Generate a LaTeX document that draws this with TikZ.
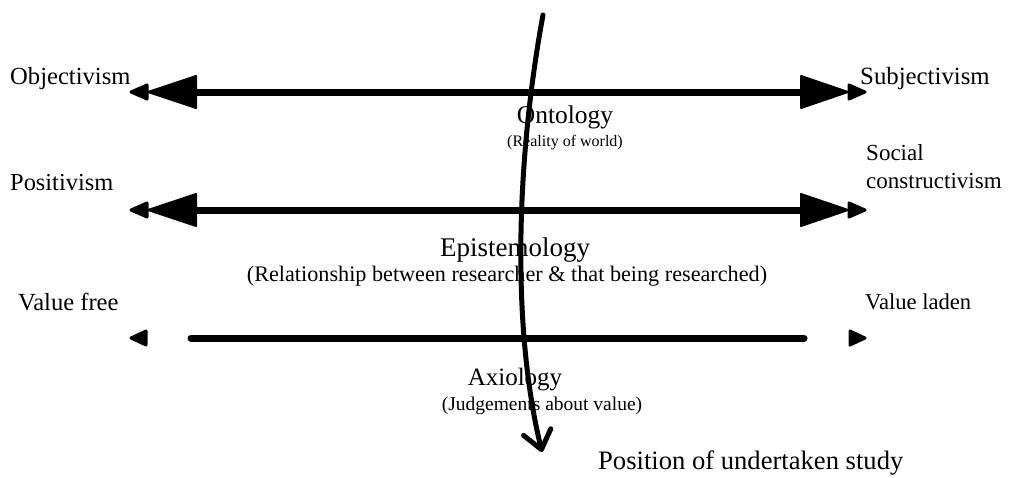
\documentclass[tikz,border=0pt]{standalone}
\usepackage{fontspec}
\setmainfont{Liberation Serif}
\usetikzlibrary{arrows.meta}
\newcommand{\fsz}[1]{\fontsize{#1}{#1}\selectfont}
\begin{document}
\begin{tikzpicture}[x=1pt,y=-1pt,
  side/.style={inner sep=0pt,anchor=west},
  main/.style={inner sep=0pt},
  sub/.style={inner sep=0pt},
  bar/.style={line width=7pt},
  headfill/.style={fill=black,draw=black,line width=2pt,line join=round},
  tipfill/.style={fill=black,draw=black,line width=3pt,line join=round}]
\useasboundingbox (0,0) rectangle (1011,477);
% labels
\node[side,font=\fsz{24.6}] (obj) at (10,79) {Objectivism};
\node[side,font=\fsz{24.8}] (subj) at (860,79) {Subjectivism};
\node[side,font=\fsz{24.4}] (pos) at (10,183) {Positivism};
\node[side,align=left,font=\fontsize{23}{28}\selectfont] (soc) at (866,167) {Social\\constructivism};
\node[side,font=\fsz{24.6}] (vf) at (18,302) {Value free};
\node[side,font=\fsz{22.6}] (vl) at (865,302) {Value laden};
\node[main,font=\fsz{25.5}] (ont) at (565,117) {Ontology};
\node[sub,font=\fsz{16}] (ontd) at (565,143) {(Reality of world)};
\node[main,font=\fsz{27}] (epi) at (515,250) {Epistemology};
\node[sub,font=\fsz{22.2}] (epid) at (507,276) {(Relationship between researcher \& that being researched)};
\node[main,font=\fsz{25}] (axi) at (515,380) {Axiology};
\node[sub,font=\fsz{19.5}] (axid) at (542,406) {(Judgements about value)};
\node[inner sep=0pt,anchor=west,font=\fsz{26.6}] (study) at (598,463) {Position of undertaken study};
% row 1
\coordinate (r1l) at (196,92);
\coordinate (r1r) at (801,92);
\draw[bar] (r1l) -- (r1r);
\path[headfill] (r1l) ++(0,-16) -- ++(-48,16) -- ++(48,16) -- cycle;
\path[headfill] (r1r) ++(0,-16) -- ++(47,16) -- ++(-47,16) -- cycle;
\path[tipfill] (131,92) -- (147,85) -- (147,99) -- cycle;
\path[tipfill] (865,92) -- (849,85) -- (849,99) -- cycle;
% row 2
\coordinate (r2l) at (196,210);
\coordinate (r2r) at (801,210);
\draw[bar] (r2l) -- (r2r);
\path[headfill] (r2l) ++(0,-16) -- ++(-48,16) -- ++(48,16) -- cycle;
\path[headfill] (r2r) ++(0,-16) -- ++(47,16) -- ++(-47,16) -- cycle;
\path[tipfill] (131,210) -- (147,203) -- (147,217) -- cycle;
\path[tipfill] (865,210) -- (849,203) -- (849,217) -- cycle;
% row 3
\coordinate (r3l) at (191,338);
\coordinate (r3r) at (804,338);
\draw[bar,line cap=round] (r3l) -- (r3r);
\path[tipfill] (131,338) -- (146,331) -- (146,345) -- cycle;
\path[tipfill] (865,338) -- (850,331) -- (850,345) -- cycle;
% position curve
\coordinate (cs) at (543,15);
\coordinate (ce) at (542,452);
\draw[line width=5pt,line cap=round,-{Straight Barb[length=18pt,width=28pt,line width=5pt,round]}]
  (cs) .. controls (518,150) and (510,320) .. (ce);
\end{tikzpicture}
\end{document}
